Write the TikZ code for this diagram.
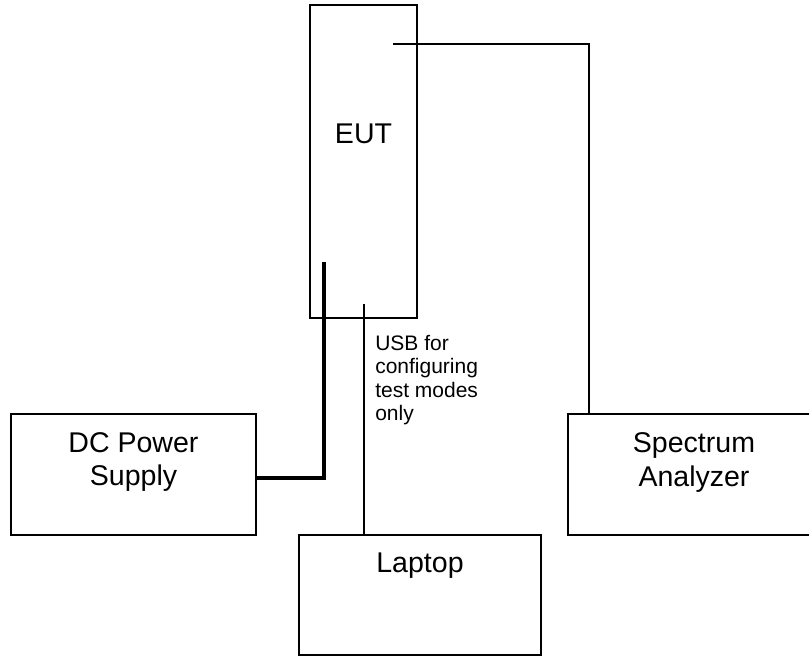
\documentclass[tikz,border=0pt]{standalone}
\usepackage{fontspec}
\setmainfont{Liberation Sans}
\usepackage{tikz}
\usetikzlibrary{positioning}

\begin{document}
\begin{tikzpicture}[x=0.75pt,y=-0.75pt,
    unit/.style={draw,line width=1.2pt,inner sep=0pt},
    unitname/.style={font=\fontsize{21.4}{25.3}\selectfont,align=center,inner sep=0pt,anchor=north},
    note/.style={font=\fontsize{15.75}{17.6}\selectfont,align=left,inner sep=0pt,anchor=north west},
    cable/.style={line width=1.1pt},
    dccable/.style={line width=2.6pt}]
  \useasboundingbox (0,0) rectangle (809,656);
  % equipment
  \node[unit,minimum width=80.25pt,minimum height=234.75pt] (eut) at (363.5,161.5) {};
  \node[unit,minimum width=183.75pt,minimum height=90.75pt] (dc) at (133.5,474.5) {};
  \node[unit,minimum width=189pt,minimum height=90.75pt] (sa) at (694,474.5) {};
  \node[unit,minimum width=181.5pt,minimum height=90pt] (lap) at (420,595) {};
  \node[unitname] (eutname) at (363.5,124) {EUT};
  \node[unitname] (dcname) at (133.5,432) {DC Power\\Supply};
  \node[unitname] (saname) at (694,432.5) {Spectrum\\Analyzer};
  \node[unitname] (lapname) at (420,553) {Laptop};
  \node[note] (usbnote) at (375,335) {USB for\\configuring\\test modes\\only};
  % cable ends
  \coordinate (rfport) at (393,44);
  \coordinate (dcport) at (324,262);
  \coordinate (usbport) at (364,304);
  \coordinate (sain) at (589,414);
  \coordinate (dcin) at (256,478);
  % cables
  \draw[cable] (rfport) -| (sain);
  \draw[dccable] (dcport) |- (dcin);
  \draw[cable] (usbport) -- (usbport |- lap.north);
\end{tikzpicture}
\end{document}
